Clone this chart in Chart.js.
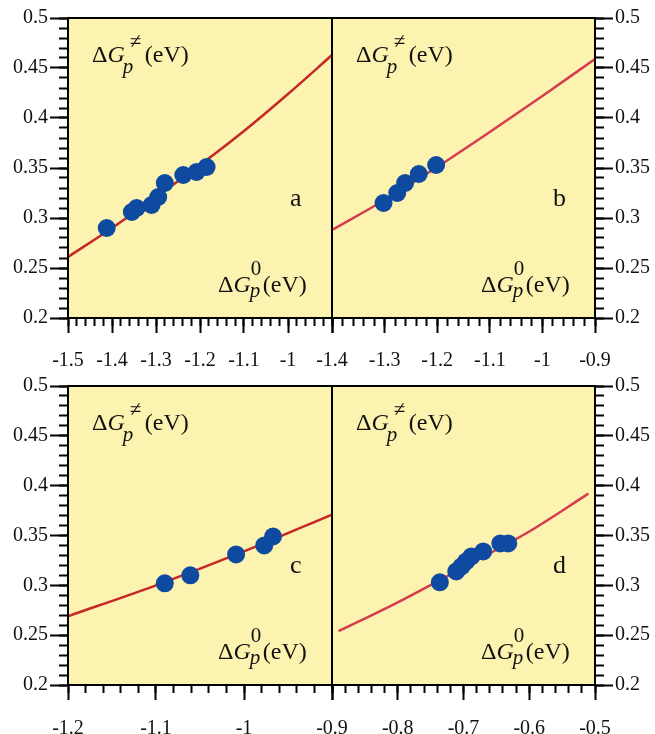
<!DOCTYPE html>
<html>
<head>
<meta charset="utf-8">
<script src="https://cdn.jsdelivr.net/npm/chart.js@4"></script>
<style>
  body { margin: 0; background: #fff; }
  #wrap { position: relative; width: 655px; height: 734px; overflow: hidden;
          font-family: "Liberation Serif", "Times New Roman", serif; color: #111; }
  canvas { position: absolute; }
  .lab { position: absolute; font-size: 24px; line-height: 1; white-space: nowrap; }
  .stk { display: inline-block; position: relative; height: 0; }
  .stk span { position: absolute; font-size: 21px; line-height: 1; }
  .let { position: absolute; font-size: 26px; line-height: 1; }
</style>
</head>
<body>
<div id="wrap">
  <canvas id="pa" width="355" height="370" style="left:0;top:0"></canvas>
  <canvas id="pb" width="345" height="370" style="left:310px;top:0"></canvas>
  <canvas id="pc" width="355" height="364" style="left:0;top:370px"></canvas>
  <canvas id="pd" width="345" height="364" style="left:310px;top:370px"></canvas>
</div>
<script>
// Panel a
const aDotX = [-1.412, -1.355, -1.344, -1.310, -1.295, -1.280, -1.238, -1.208, -1.185];
const aDotY = [0.290, 0.306, 0.310, 0.313, 0.321, 0.335, 0.343, 0.346, 0.351];
const aCurveX = [-1.5, -1.4, -1.3, -1.2, -1.1, -1.0, -0.9];
const aCurveY = [0.261, 0.290, 0.321, 0.353, 0.387, 0.424, 0.463];
const aTicks = [-1.5, -1.4, -1.3, -1.2, -1.1, -1.0, -0.9];

// Panel b
const bDotX = [-1.302, -1.276, -1.261, -1.235, -1.202];
const bDotY = [0.315, 0.325, 0.335, 0.344, 0.353];
const bCurveX = [-1.4, -1.3, -1.2, -1.1, -1.0, -0.9];
const bCurveY = [0.288, 0.318, 0.351, 0.386, 0.422, 0.459];
const bTicks = [-1.4, -1.3, -1.2, -1.1, -1.0, -0.9];

// Panel c
const cDotX = [-1.090, -1.061, -1.009, -0.977, -0.967];
const cDotY = [0.302, 0.310, 0.331, 0.340, 0.349];
const cCurveX = [-1.2, -1.1, -1.0, -0.9];
const cCurveY = [0.269, 0.300, 0.334, 0.371];
const cTicks = [-1.2, -1.1, -1.0, -0.9];

// Panel d
const dDotX = [-0.736, -0.711, -0.703, -0.696, -0.688, -0.670, -0.644, -0.632];
const dDotY = [0.303, 0.314, 0.319, 0.324, 0.329, 0.334, 0.342, 0.342];
const dCurveX = [-0.89, -0.8, -0.7, -0.6, -0.51];
const dCurveY = [0.254, 0.283, 0.318, 0.354, 0.392];
const dTicks = [-0.9, -0.8, -0.7, -0.6, -0.5];

const yTicks = [0.2, 0.25, 0.3, 0.35, 0.4, 0.45, 0.5];

const BG = '#fdf3b0';
const DOT = '#0d4aa0';
const RED_DARK = '#c62828';
const RED_PINK = '#d63c4e';

Chart.defaults.font.family = '"Liberation Serif", "Times New Roman", serif';
Chart.defaults.font.size = 20;
Chart.defaults.color = '#111';

const fmt = v => String(+v.toFixed(2));

// yellow plot background + black frame
const framePlugin = {
  id: 'frame',
  beforeDraw(chart) {
    const { ctx, chartArea: a } = chart;
    ctx.save();
    ctx.fillStyle = BG;
    ctx.fillRect(a.left, a.top, a.right - a.left, a.bottom - a.top);
    ctx.restore();
  },
  afterDraw(chart) {
    const { ctx, chartArea: a } = chart;
    ctx.save();
    ctx.strokeStyle = '#000';
    ctx.lineWidth = 2;
    ctx.strokeRect(a.left, a.top, a.right - a.left, a.bottom - a.top);
    ctx.restore();
  }
};

function pairs(xs, ys) {
  return xs.map((x, i) => ({ x: x, y: ys[i] }));
}

// fixed axis sizes, no label overflow padding so plot areas line up exactly
function fixX(h) {
  return s => { s.height = h; s.paddingLeft = 0; s.paddingRight = 0; };
}
function fixY(w) {
  return s => { s.width = w; s.paddingTop = 0; s.paddingBottom = 0; };
}

function makePanel(id, cfg) {
  const side = cfg.side;
  const xMin = cfg.xTicks[0];
  const xMax = cfg.xTicks[cfg.xTicks.length - 1];
  return new Chart(document.getElementById(id), {
    type: 'scatter',
    data: {
      datasets: [
        {
          data: pairs(cfg.dotX, cfg.dotY),
          backgroundColor: DOT,
          borderColor: DOT,
          pointRadius: 9,
          pointBorderWidth: 0,
          showLine: false,
          order: 1
        },
        {
          data: pairs(cfg.curveX, cfg.curveY),
          borderColor: cfg.color,
          borderWidth: 2.5,
          pointRadius: 0,
          showLine: true,
          tension: 0.4,
          cubicInterpolationMode: 'monotone',
          order: 2
        }
      ]
    },
    options: {
      responsive: false,
      animation: false,
      devicePixelRatio: 1,
      events: [],
      layout: { padding: cfg.padding },
      plugins: { legend: { display: false }, tooltip: { enabled: false } },
      scales: {
        x: {
          type: 'linear',
          position: 'bottom',
          weight: 1,
          min: xMin,
          max: xMax,
          afterBuildTicks: s => { s.ticks = cfg.xTicks.map(v => ({ value: v })); },
          afterFit: fixX(cfg.xHeight),
          border: { display: true, color: '#000', width: 2 },
          grid: { drawOnChartArea: false, drawTicks: true, tickLength: 15, tickWidth: 2, tickColor: '#000' },
          ticks: {
            autoSkip: false,
            maxRotation: 0,
            padding: cfg.xPad,
            color: '#111',
            callback: v => (cfg.hideX !== undefined && Math.abs(v - cfg.hideX) < 1e-6) ? '' : fmt(v)
          }
        },
        xMinor: {
          type: 'linear',
          position: 'bottom',
          weight: 0,
          min: xMin,
          max: xMax,
          afterFit: fixX(0),
          border: { display: false },
          grid: { drawOnChartArea: false, drawTicks: true, tickLength: 8, tickWidth: 2, tickColor: '#000' },
          ticks: { display: false, stepSize: 0.02 }
        },
        y: {
          type: 'linear',
          position: side,
          weight: 1,
          min: 0.2,
          max: 0.5,
          afterBuildTicks: s => { s.ticks = yTicks.map(v => ({ value: v })); },
          afterFit: fixY(cfg.yWidth),
          border: { display: true, color: '#000', width: 2 },
          grid: { drawOnChartArea: false, drawTicks: true, tickLength: 18, tickWidth: 2, tickColor: '#000' },
          ticks: { padding: 2, color: '#111', callback: v => fmt(v) }
        },
        yMinor: {
          type: 'linear',
          position: side,
          weight: 0,
          min: 0.2,
          max: 0.5,
          afterFit: fixY(0),
          border: { display: false },
          grid: { drawOnChartArea: false, drawTicks: true, tickLength: 9, tickWidth: 2, tickColor: '#000' },
          ticks: { display: false, stepSize: 0.01 }
        }
      }
    },
    plugins: [framePlugin]
  });
}

makePanel('pa', {
  side: 'left', dotX: aDotX, dotY: aDotY, curveX: aCurveX, curveY: aCurveY,
  xTicks: aTicks, hideX: -0.9, color: RED_DARK, xPad: 16,
  padding: { left: 0, top: 18, right: 23, bottom: 0 }, xHeight: 52, yWidth: 68
});
makePanel('pb', {
  side: 'right', dotX: bDotX, dotY: bDotY, curveX: bCurveX, curveY: bCurveY,
  xTicks: bTicks, color: RED_PINK, xPad: 16,
  padding: { left: 22, top: 18, right: 0, bottom: 0 }, xHeight: 52, yWidth: 60
});
makePanel('pc', {
  side: 'left', dotX: cDotX, dotY: cDotY, curveX: cCurveX, curveY: cCurveY,
  xTicks: cTicks, color: RED_DARK, xPad: 17,
  padding: { left: 0, top: 16, right: 23, bottom: 0 }, xHeight: 49, yWidth: 68
});
makePanel('pd', {
  side: 'right', dotX: dDotX, dotY: dDotY, curveX: dCurveX, curveY: dCurveY,
  xTicks: dTicks, hideX: -0.9, color: RED_PINK, xPad: 17,
  padding: { left: 22, top: 16, right: 0, bottom: 0 }, xHeight: 49, yWidth: 60
});

// axis-name annotations and panel letters (plot area edges in page pixels)
function addLabels(L, T, R, B, letter) {
  const wrap = document.getElementById('wrap');

  const tl = document.createElement('div');
  tl.className = 'lab';
  tl.style.left = (L + 24) + 'px';
  tl.style.top = (T + 44 - 20) + 'px';
  tl.innerHTML = 'Δ<i>G</i><span class="stk" style="width:20px">' +
    '<span style="left:5px;top:-31px">≠</span>' +
    '<span style="left:-2px;top:-6px"><i>p</i></span></span>(eV)';
  wrap.appendChild(tl);

  const br = document.createElement('div');
  br.className = 'lab';
  br.style.left = (R - 114) + 'px';
  br.style.top = (B - 26 - 20) + 'px';
  br.innerHTML = 'Δ<i>G</i><span class="stk" style="width:12px">' +
    '<span style="left:0;top:-34px">0</span>' +
    '<span style="left:-1px;top:-12px"><i>p</i></span></span>(eV)';
  wrap.appendChild(br);

  const lt = document.createElement('div');
  lt.className = 'let';
  lt.style.left = (R - 42) + 'px';
  lt.style.top = (B - 111 - 22) + 'px';
  lt.textContent = letter;
  wrap.appendChild(lt);
}

addLabels(68, 18, 332, 318, 'a');
addLabels(332, 18, 595, 318, 'b');
addLabels(68, 386, 332, 685, 'c');
addLabels(332, 386, 595, 685, 'd');
</script>
</body>
</html>
